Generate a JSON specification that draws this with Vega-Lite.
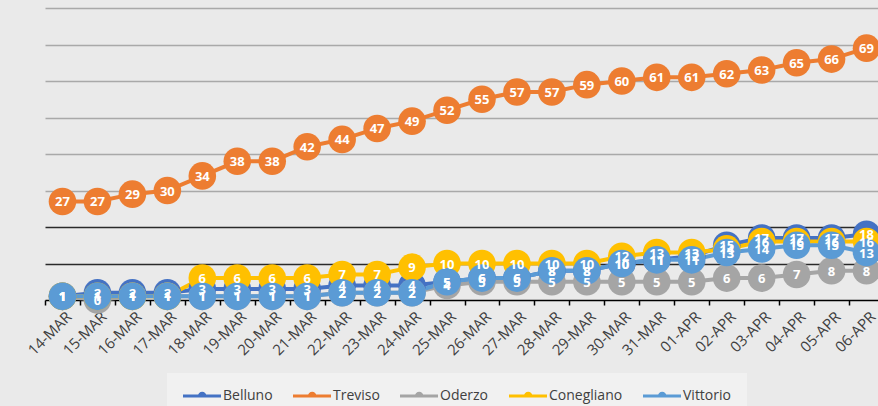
{
  "$schema": "https://vega.github.io/schema/vega-lite/v6.json",
  "autosize": {"type": "none"},
  "width": 839,
  "height": 292,
  "padding": {"left": 45, "top": 8, "right": 0, "bottom": 106},
  "background": "#eaeaea",
  "config": {"view": {"stroke": null}},
  "data": {"values": [
    {"d": "14-MAR", "Belluno": 1, "Treviso": 27, "Oderzo": 1, "Conegliano": 1, "Vittorio": 1},
    {"d": "15-MAR", "Belluno": 2, "Treviso": 27, "Oderzo": 0, "Conegliano": 1, "Vittorio": 1},
    {"d": "16-MAR", "Belluno": 2, "Treviso": 29, "Oderzo": 1, "Conegliano": 1, "Vittorio": 1},
    {"d": "17-MAR", "Belluno": 2, "Treviso": 30, "Oderzo": 1, "Conegliano": 1, "Vittorio": 1},
    {"d": "18-MAR", "Belluno": 3, "Treviso": 34, "Oderzo": 1, "Conegliano": 6, "Vittorio": 1},
    {"d": "19-MAR", "Belluno": 3, "Treviso": 38, "Oderzo": 1, "Conegliano": 6, "Vittorio": 1},
    {"d": "20-MAR", "Belluno": 3, "Treviso": 38, "Oderzo": 1, "Conegliano": 6, "Vittorio": 1},
    {"d": "21-MAR", "Belluno": 3, "Treviso": 42, "Oderzo": 1, "Conegliano": 6, "Vittorio": 1},
    {"d": "22-MAR", "Belluno": 4, "Treviso": 44, "Oderzo": 2, "Conegliano": 7, "Vittorio": 2},
    {"d": "23-MAR", "Belluno": 4, "Treviso": 47, "Oderzo": 2, "Conegliano": 7, "Vittorio": 2},
    {"d": "24-MAR", "Belluno": 4, "Treviso": 49, "Oderzo": 2, "Conegliano": 9, "Vittorio": 2},
    {"d": "25-MAR", "Belluno": 5, "Treviso": 52, "Oderzo": 4, "Conegliano": 10, "Vittorio": 5},
    {"d": "26-MAR", "Belluno": 6, "Treviso": 55, "Oderzo": 5, "Conegliano": 10, "Vittorio": 6},
    {"d": "27-MAR", "Belluno": 6, "Treviso": 57, "Oderzo": 5, "Conegliano": 10, "Vittorio": 6},
    {"d": "28-MAR", "Belluno": 8, "Treviso": 57, "Oderzo": 5, "Conegliano": 10, "Vittorio": 8},
    {"d": "29-MAR", "Belluno": 8, "Treviso": 59, "Oderzo": 5, "Conegliano": 10, "Vittorio": 8},
    {"d": "30-MAR", "Belluno": 10, "Treviso": 60, "Oderzo": 5, "Conegliano": 12, "Vittorio": 10},
    {"d": "31-MAR", "Belluno": 11, "Treviso": 61, "Oderzo": 5, "Conegliano": 13, "Vittorio": 11},
    {"d": "01-APR", "Belluno": 12, "Treviso": 61, "Oderzo": 5, "Conegliano": 13, "Vittorio": 11},
    {"d": "02-APR", "Belluno": 15, "Treviso": 62, "Oderzo": 6, "Conegliano": 14, "Vittorio": 13},
    {"d": "03-APR", "Belluno": 17, "Treviso": 63, "Oderzo": 6, "Conegliano": 16, "Vittorio": 14},
    {"d": "04-APR", "Belluno": 17, "Treviso": 65, "Oderzo": 7, "Conegliano": 16, "Vittorio": 15},
    {"d": "05-APR", "Belluno": 17, "Treviso": 66, "Oderzo": 8, "Conegliano": 16, "Vittorio": 15},
    {"d": "06-APR", "Belluno": 18, "Treviso": 69, "Oderzo": 8, "Conegliano": 16, "Vittorio": 13}
  ]},
  "transform": [
    {"fold": ["Belluno", "Treviso", "Oderzo", "Conegliano", "Vittorio"], "as": ["s", "v"]}
  ],
  "encoding": {
    "x": {
      "field": "d", "type": "ordinal", "bandPosition": 0.5,
      "scale": {"type": "band", "paddingInner": 0, "paddingOuter": 0,
        "domain": ["14-MAR","15-MAR","16-MAR","17-MAR","18-MAR","19-MAR","20-MAR","21-MAR","22-MAR","23-MAR","24-MAR","25-MAR","26-MAR","27-MAR","28-MAR","29-MAR","30-MAR","31-MAR","01-APR","02-APR","03-APR","04-APR","05-APR","06-APR"]},
      "axis": {
        "title": null, "labelAngle": -45, "labelAlign": "right", "labelBaseline": "middle",
        "labelFont": "Open Sans", "labelFontSize": 15, "labelColor": "#404040", "labelPadding": 9, "labelOffset": 6,
        "domainColor": "#000000", "domainWidth": 1.5, "tickColor": "#000000", "tickSize": 5, "tickWidth": 1.5,
        "tickBand": "extent", "grid": false
      }
    },
    "y": {
      "field": "v", "type": "quantitative",
      "scale": {"domain": [0, 80]},
      "axis": {
        "title": null, "labels": false, "ticks": false, "domain": false,
        "values": [10, 20, 30, 40, 50, 60, 70, 80],
        "gridColor": {"condition": {"test": "datum.value <= 20", "value": "#2a2a2a"}, "value": "#a9a9a9"},
        "gridWidth": 1.5
      }
    },
    "color": {
      "field": "s", "type": "nominal",
      "scale": {"domain": ["Belluno", "Treviso", "Oderzo", "Conegliano", "Vittorio"],
        "range": ["#4472C4", "#ED7D31", "#A5A5A5", "#FFC000", "#5B9BD5"]},
      "legend": {
        "title": null, "orient": "none", "legendX": 122, "legendY": 365, "direction": "horizontal",
        "symbolType": "M-1,-0.21L4.43,-0.21L4.43,0.21L-1,0.21Z M1.14,0A0.6,0.6 0 0,1 2.34,0Z",
        "symbolSize": 196, "symbolStrokeWidth": 0, "symbolOpacity": 1,
        "labelOffset": 26, "columnPadding": 20, "padding": 16,
        "fillColor": "#f1f1f1", "labelFont": "Open Sans", "labelFontSize": 14, "labelColor": "#404040"
      }
    }
  },
  "layer": [
    {"mark": {"type": "line", "strokeWidth": 4}},
    {"mark": {"type": "point", "filled": true, "size": 760, "opacity": 1}},
    {
      "mark": {"type": "text", "font": "Open Sans", "fontSize": 13, "fontWeight": "bold", "baseline": "middle", "dy": 1},
      "encoding": {"text": {"field": "v", "type": "quantitative"}, "color": {"value": "white"}}
    }
  ]
}
